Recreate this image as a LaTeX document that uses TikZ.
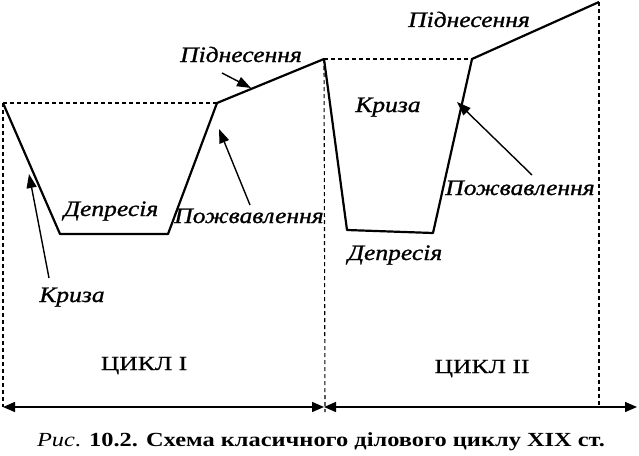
\documentclass[tikz,border=0pt]{standalone}
\usepackage{fontspec}
\setmainfont{Liberation Serif}
\newfontfamily\labfont[FakeStretch=1.16,FakeBold=1.0]{Liberation Serif}
\newfontfamily\cycfont[FakeStretch=1.28,FakeBold=0.4]{Liberation Serif}
\newfontfamily\capfont[FakeStretch=1.22]{Liberation Serif}
\usetikzlibrary{arrows.meta}
\begin{document}
\begin{tikzpicture}[x=1pt,y=-1pt,
  curve/.style={line width=2.2pt, line join=round},
  guide/.style={line width=1.1pt, dash pattern=on 4pt off 3pt},
  pointer/.style={line width=1.4pt, -{Triangle[length=14pt,width=10pt]}},
  axis/.style={line width=1.4pt, {Triangle[length=12pt,width=10pt]}-{Triangle[length=12pt,width=10pt]}},
  lab/.style={font=\labfont\itshape\fontsize{22}{22}\selectfont, inner sep=0pt, anchor=base},
  cyc/.style={font=\cycfont\fontsize{20}{20}\selectfont, inner sep=0pt, anchor=base},
  capt/.style={font=\capfont\fontsize{20}{20}\selectfont, inner sep=0pt, anchor=base}]
\useasboundingbox (0,0) rectangle (639,455);
% cycle I points
\coordinate (a0) at (3,103);
\coordinate (a1) at (60,234);
\coordinate (a2) at (168,234);
\coordinate (a3) at (217,103);
\coordinate (a4) at (324,59);
% cycle II points
\coordinate (b1) at (347,230);
\coordinate (b2) at (433,233);
\coordinate (b3) at (472,59);
\coordinate (b4) at (599,2);
% bottom
\coordinate (l0) at (3,407);
\coordinate (l1) at (324,407);
\coordinate (l1b) at (325,412);
\coordinate (l2) at (599,407);
\coordinate (lend) at (637,407);
% guides
\draw[guide] (a0) -- (a3);
\draw[guide] (a4) -- (b3);
\draw[guide] (a0) -- (l0);
\draw[guide] (a4) -- (l1b);
\draw[guide] (b4) -- (l2);
% curve
\draw[curve] (a0) -- (a1) -- (a2) -- (a3) -- (a4) -- (b1) -- (b2) -- (b3) -- (b4);
% axis arrows
\draw[axis] (l0) -- (l1);
\draw[axis] (l1) -- (lend);
% labels
\node[lab] (p1) at (241,62) {Піднесення};
\node[lab] (d1) at (111,216) {Депресія};
\node[lab] (z1) at (249,223) {Пожвавлення};
\node[lab] (k1) at (72,302) {Криза};
\node[lab] (p2) at (469,27) {Піднесення};
\node[lab] (k2) at (388,112) {Криза};
\node[lab] (d2) at (395,260) {Депресія};
\node[lab] (z2) at (520,195) {Пожвавлення};
\node[cyc] (c1) at (144,370) {ЦИКЛ I};
\node[cyc] (c2) at (482,373) {ЦИКЛ II};
\node[capt] (cap) at (321,446) {\textit{Рис}. \textbf{10.2. Схема класичного ділового циклу XIX ст.}};
% pointer arrows
\coordinate (ps1) at (222,73);
\coordinate (pe1) at (251,88);
\coordinate (zs1) at (250,205);
\coordinate (ze1) at (219,129);
\coordinate (ks1) at (49,278);
\coordinate (ke1) at (29,174);
\coordinate (zs2) at (532,175);
\coordinate (ze2) at (457,102);
\draw[pointer] (ps1) -- (pe1);
\draw[pointer] (zs1) -- (ze1);
\draw[pointer] (ks1) -- (ke1);
\draw[pointer] (zs2) -- (ze2);
\end{tikzpicture}
\end{document}
